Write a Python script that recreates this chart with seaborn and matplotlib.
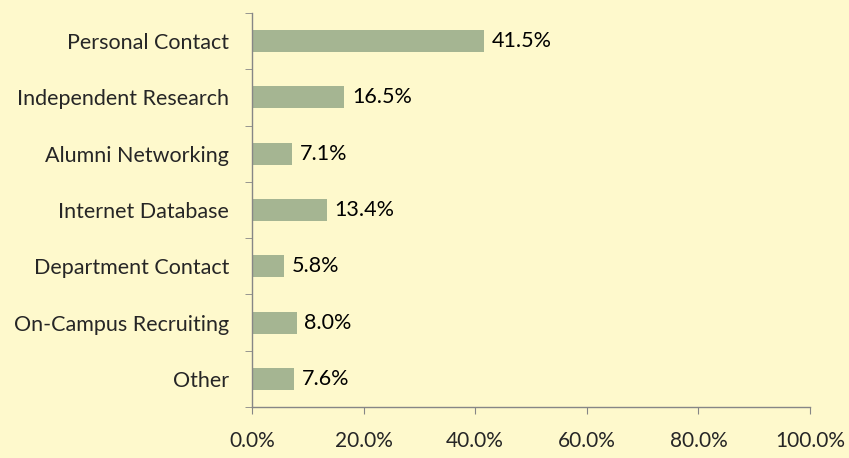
import matplotlib
matplotlib.use('Agg')
import matplotlib.pyplot as plt
import seaborn as sns
import numpy as np

# data
sources = ['Personal Contact', 'Independent Research', 'Alumni Networking',
           'Internet Database', 'Department Contact', 'On-Campus Recruiting', 'Other']
shares = [41.5, 16.5, 7.1, 13.4, 5.8, 8.0, 7.6]
x_ticks = [0, 20, 40, 60, 80, 100]

bg = '#FEF9CC'
bar_color = '#A5B592'
axis_gray = '#868686'

sns.set_style('white')
plt.rcParams['font.family'] = ['Lato', 'DejaVu Sans']

fig, ax = plt.subplots(figsize=(8.49, 4.58), dpi=100)
fig.patch.set_facecolor(bg)
ax.set_facecolor(bg)
fig.subplots_adjust(left=252/849, right=810/849, top=1-13/458, bottom=1-407/458)

sns.barplot(x=shares, y=sources, orient='h', color=bar_color, width=0.39,
            saturation=1, ax=ax, edgecolor='none')

for i, v in enumerate(shares):
    ax.text(v + 1.4, i, f'{v:.1f}%', va='center', ha='left', fontsize=15.5, color='black')

ax.set_xlim(0, 100)
ax.set_ylim(6.5, -0.5)
ax.set_xticks(x_ticks)
ax.set_xticklabels([f'{t:.1f}%' for t in x_ticks], fontsize=15)
ax.set_yticks(range(len(sources)))
ax.set_yticklabels(sources, fontsize=15.5)
ax.set_yticks(np.arange(-0.5, len(sources), 1), minor=True)

for s in ['top', 'right']:
    ax.spines[s].set_visible(False)
for s in ['left', 'bottom']:
    ax.spines[s].set_color(axis_gray)
    ax.spines[s].set_linewidth(1)

ax.tick_params(axis='y', which='major', length=0, pad=16.5)
ax.tick_params(axis='y', which='minor', length=5, color=axis_gray, direction='out', left=True)
ax.tick_params(axis='x', length=5, color=axis_gray, direction='out', pad=12, bottom=True)
ax.set_xlabel('')
ax.set_ylabel('')

fig.savefig('out.png', dpi=100, facecolor=bg)
